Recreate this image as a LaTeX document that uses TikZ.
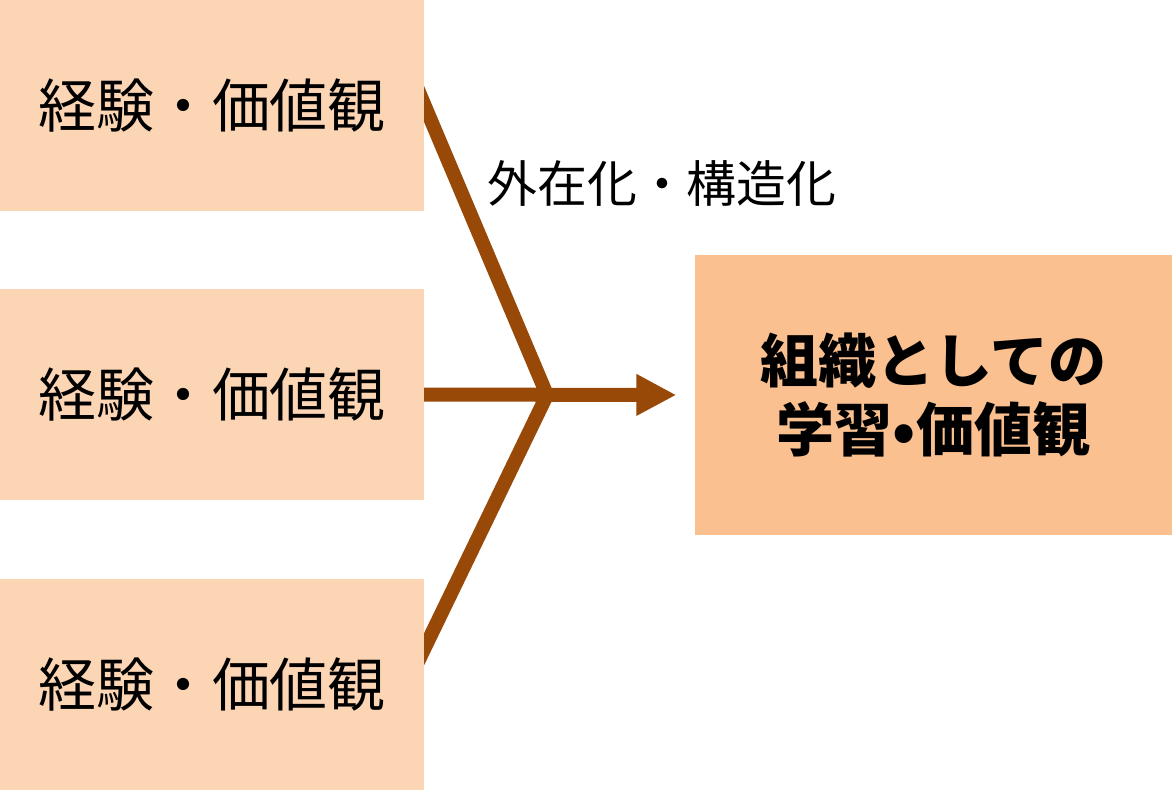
\documentclass[tikz,border=0pt]{standalone}
\usepackage{fontspec}
\setmainfont{Noto Sans CJK JP}
\usetikzlibrary{positioning,arrows.meta,calc,backgrounds}
\definecolor{peach}{HTML}{FCD5B5}
\definecolor{apricot}{HTML}{FAC090}
\definecolor{rust}{HTML}{984807}
\tikzset{
  src/.style={fill=peach, minimum width=4.24cm, minimum height=2.11cm, inner sep=0pt,
    font=\fontsize{16.5}{20}\selectfont},
  goal/.style={fill=apricot, minimum width=4.77cm, minimum height=2.80cm, inner sep=0pt,
    align=center, font=\bfseries\fontsize{16.5}{19.4}\selectfont},
  feed/.style={line width=1.4mm, color=rust, line join=miter},
  lbl/.style={font=\fontsize{14.2}{17}\selectfont},
}
\begin{document}
\begin{tikzpicture}[x=0.1mm,y=-0.1mm]
  \useasboundingbox (0,0) rectangle (1172,789);
  % sources
  \node[src] (src1) at (212,105.5) {経験・価値観};
  \node[src] (src2) at (212,394.5) {経験・価値観};
  \node[src] (src3) at (212,684) {経験・価値観};
  % target
  \node[goal] (dst) at (933.5,395) {組織としての\\学習•価値観};
  \node[lbl] (proc) at (662,183) {外在化・構造化};
  \coordinate (hub) at (547,395);
  \coordinate (tail3) at ($(src3.north east)!0.66!(src3.east)$);
  % connectors
  \begin{scope}[on background layer]
    \draw[feed] ($(hub)!1.1!(src1.east)$) -- (hub) -- ($(hub)!1.1!(tail3)$);
    \draw[feed,-{Triangle[length=4mm,width=3.9mm]},shorten >=1.8mm]
      ($(src2.east)+(-20,0)$) -- (dst.west);
  \end{scope}
\end{tikzpicture}
\end{document}
